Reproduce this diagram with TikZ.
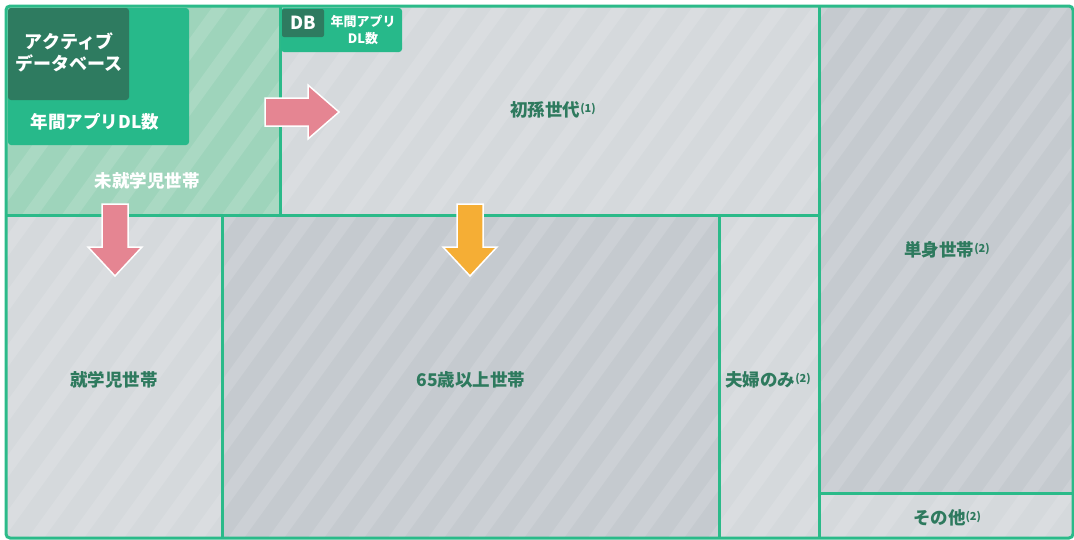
\documentclass[tikz,border=0pt]{standalone}
\usepackage{fontspec}
\setmainfont{Noto Sans CJK JP}
\definecolor{cellL}{HTML}{D5D9DC}
\definecolor{cellD}{HTML}{C5CACF}
\definecolor{cellG}{HTML}{9ED4BB}
\definecolor{lineG}{HTML}{2BBA89}
\definecolor{boxG}{HTML}{27B98A}
\definecolor{boxD}{HTML}{2E7B60}
\definecolor{txtG}{HTML}{2E7A5E}
\definecolor{arrP}{HTML}{E58592}
\definecolor{arrO}{HTML}{F5AE35}
\newcommand{\supn}[1]{\raisebox{4.5pt}{\fontsize{11}{11}\selectfont(#1)}}
\begin{document}
\begin{tikzpicture}[x=1pt,y=-1pt,
  border/.style={draw=lineG,line width=3pt},
  lbl/.style={font=\fontsize{17.5}{20}\selectfont\bfseries,text=txtG,inner sep=0pt},
  wlbl/.style={font=\fontsize{18}{22}\selectfont\bfseries,text=white,inner sep=0pt,align=center},
  arr/.style={draw=white,line width=1.5pt,line join=miter}]
\useasboundingbox (0,0) rectangle (1074,539);
\begin{scope}
\clip[rounded corners=4pt] (6,6) rectangle (1073,538);
\fill[cellL] (6,6) rectangle (1073,538);
\fill[cellG] (6,6) rectangle (280,215);
\fill[cellD] (222,215) rectangle (719,538);
\fill[cellD] (819,6) rectangle (1073,493);
\foreach \i in {-500,-460,...,1100}
  \draw[white,opacity=0.13,line width=13pt] (\i,560) -- ++(420,-580);
\end{scope}
% borders
\draw[border] (6,215) -- (819,215);
\draw[border] (280,6) -- (280,215);
\draw[border] (222,215) -- (222,538);
\draw[border] (719,215) -- (719,538);
\draw[border] (819,6) -- (819,538);
\draw[border] (819,493) -- (1073,493);
\draw[border,rounded corners=4pt] (6,6) rectangle (1073,538);
% top-left legend box
\fill[boxG,rounded corners=3pt] (8,8) rectangle (189,145);
\fill[boxD,rounded corners=3pt] (8,8) rectangle (129,100);
\node[wlbl] (adb) at (69,52) {アクティブ\\データベース};
\node[wlbl,font=\fontsize{17.5}{20}\selectfont\bfseries] (dl) at (95,122) {年間アプリDL数};
% DB tag
\fill[boxG,rounded corners=3pt] (281,8) rectangle (402,52);
\fill[boxD,rounded corners=2pt] (282,9) rectangle (324,37);
\node[wlbl] (db) at (303,23) {DB};
\node[font=\fontsize{13}{17}\selectfont\bfseries,text=white,inner sep=0pt,align=center] (dbdl) at (363,30) {年間アプリ\\DL数};
% labels
\node[lbl,text=white,font=\fontsize{17.5}{20}\selectfont\bfseries] (mishu) at (147,181) {未就学児世帯};
\node[lbl] (hatsu) at (553,110) {初孫世代\supn{1}};
\node[lbl] (shu) at (114,380) {就学児世帯};
\node[lbl] (s65) at (471,380) {65歳以上世帯};
\node[lbl] (fufu) at (768,380) {夫婦のみ\supn{2}};
\node[lbl] (tan) at (947,250) {単身世帯\supn{2}};
\node[lbl] (sono) at (947,518) {その他\supn{2}};
% arrows
\coordinate (ar) at (265,112);
\draw[arr,fill=arrP] (ar) ++(0,-14) -- ++(43,0) -- ++(0,-13) -- ++(31,27) -- ++(-31,27) -- ++(0,-13) -- ++(-43,0) -- cycle;
\coordinate (ad1) at (115,204);
\draw[arr,fill=arrP] (ad1) ++(-13,0) -- ++(26,0) -- ++(0,43) -- ++(14,0) -- ++(-27,29) -- ++(-27,-29) -- ++(14,0) -- cycle;
\coordinate (ad2) at (470,204);
\draw[arr,fill=arrO] (ad2) ++(-13,0) -- ++(26,0) -- ++(0,43) -- ++(14,0) -- ++(-27,29) -- ++(-27,-29) -- ++(14,0) -- cycle;
\end{tikzpicture}
\end{document}
